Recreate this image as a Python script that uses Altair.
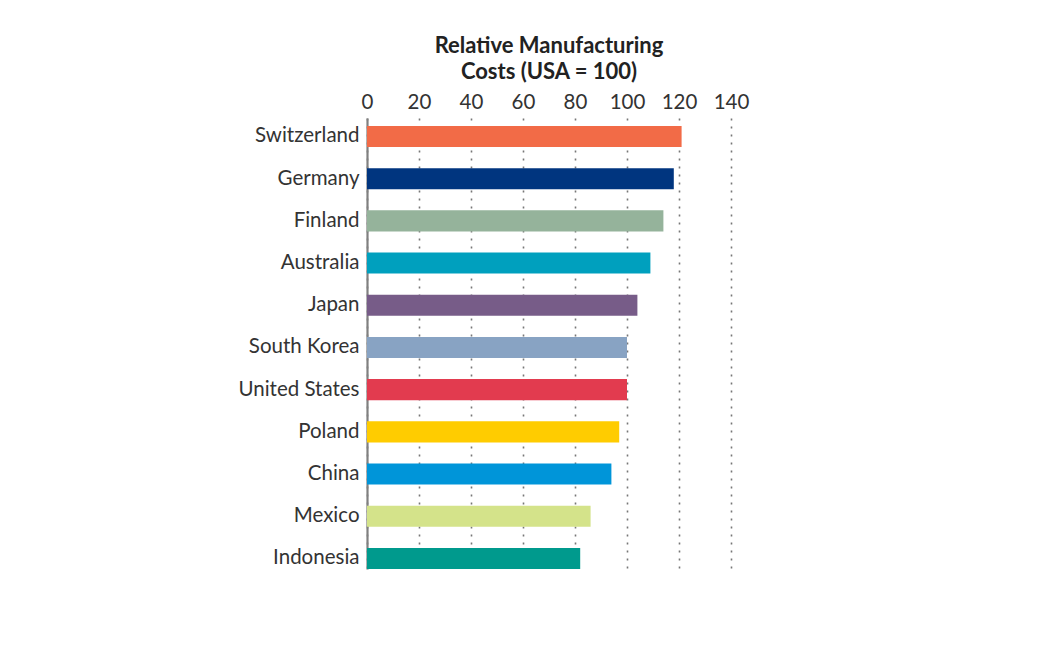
import altair as alt
import pandas as pd

countries = ["Switzerland", "Germany", "Finland", "Australia", "Japan", "South Korea",
             "United States", "Poland", "China", "Mexico", "Indonesia"]
values = [121, 118, 114, 109, 104, 100, 100, 97, 94, 86, 82]
colors = ["#F26B47", "#00357F", "#95B39B", "#00A0BE", "#775C88", "#88A3C3",
          "#E23B4F", "#FFCC00", "#0095D9", "#D4E38A", "#009A8D"]
ticks = [0, 20, 40, 60, 80, 100, 120, 140]

df = pd.DataFrame({"country": countries, "value": values, "color": colors})

font = "Lato"

chart = alt.Chart(df).mark_bar().encode(
    y=alt.Y("country:N", sort=countries,
            scale=alt.Scale(paddingInner=0.5, paddingOuter=0.094, align=1),
            axis=alt.Axis(title=None, orient="left", ticks=False, domain=True,
                          domainColor="#808080", domainWidth=2.2, labelFontSize=20.5,
                          labelColor="#333333", labelFont=font, labelPadding=8,
                          grid=False)),
    x=alt.X("value:Q", scale=alt.Scale(domain=[0, 140], nice=False),
            axis=alt.Axis(title=None, orient="top", values=ticks, ticks=False,
                          domain=False, grid=True, gridColor="#777777",
                          gridDash=[2, 6], gridWidth=1.6, labelFontSize=20.5,
                          labelColor="#333333", labelFont=font, labelPadding=6,
                          labelFlush=False)),
    color=alt.Color("color:N", scale=None, legend=None),
).properties(
    width=364,
    height=451,
    title=alt.TitleParams(["Relative Manufacturing", "Costs (USA = 100)"],
                          fontSize=22, font=font, fontWeight="bold", color="#222222",
                          anchor="middle", offset=8, lineHeight=26),
    autosize=alt.AutoSizeParams(type="none"),
    padding={"left": 359, "top": 110, "right": 20, "bottom": 20},
).configure_view(stroke=None)

chart.save("out.html", embed_options={"renderer": "svg", "actions": False})
